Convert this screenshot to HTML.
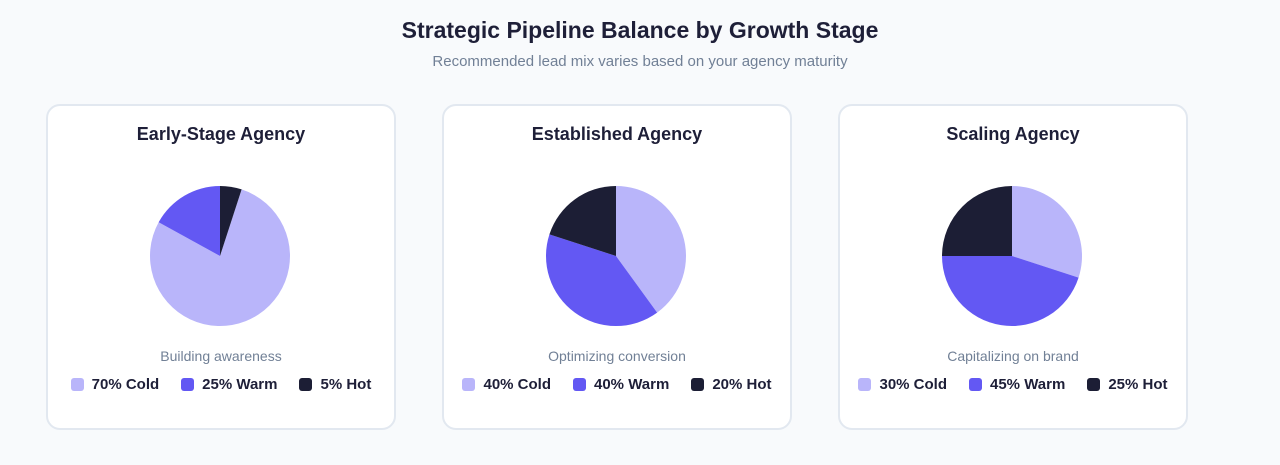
<!DOCTYPE html>
<html><head><meta charset="utf-8"><style>
body{margin:0;width:1280px;height:465px;background:#f8fafc;font-family:"Liberation Sans",sans-serif;position:relative;overflow:hidden}
.t{position:absolute;left:0;width:1280px;text-align:center}
.card{position:absolute;top:104px;width:346px;height:322px;background:#fff;border:2px solid #e2e8f0;border-radius:14px}
.ct{position:absolute;top:18px;width:100%;text-align:center;font-size:18px;font-weight:bold;color:#1e1f38}
.cap{position:absolute;top:242px;width:100%;text-align:center;font-size:14px;color:#718096}
.leg{position:absolute;top:270px;width:100%;display:flex;justify-content:center;gap:22px;font-size:15px;font-weight:bold;color:#1e1f38}
.leg span{display:flex;align-items:center}
.sw{width:13px;height:13px;border-radius:3px;margin-right:8px;display:inline-block}
svg{position:absolute;left:100px;top:78px}
</style></head><body>
<div class="t" style="top:17px;font-size:23px;font-weight:bold;color:#1e1f38">Strategic Pipeline Balance by Growth Stage</div>
<div class="t" style="top:53px;font-size:15px;color:#718096">Recommended lead mix varies based on your agency maturity</div>
<div id="root"></div>
<script>
const titles=["Early-Stage Agency","Established Agency","Scaling Agency"];
const captions=["Building awareness","Optimizing conversion","Capitalizing on brand"];
const coldVals=[78,40,30];
const warmVals=[17,40,45];
const hotVals=[5,20,25];
const labelCold=["70%","40%","30%"];
const labelWarm=["25%","40%","45%"];
const labelHot=["5%","20%","25%"];
const startPct=[5,0,0];
const colors=["#b9b5fa","#6358f3","#1c1e35"];
const names=["Cold","Warm","Hot"];
const lefts=[46,442,838];
const root=document.getElementById('root');
const R=70,C=72;
function pt(p){const a=p/100*2*Math.PI;return [C+R*Math.sin(a),C-R*Math.cos(a)];}
titles.forEach((t,i)=>{
  const card=document.createElement('div');card.className='card';card.style.left=lefts[i]+'px';
  
  
  let svg='<svg width="144" height="144">';
  const vals=[coldVals[i],warmVals[i],hotVals[i]];
  let acc=startPct[i];
  vals.forEach((v,k)=>{
    const [x1,y1]=pt(acc),[x2,y2]=pt(acc+v);
    svg+=`<path fill="${colors[k]}" d="M${C},${C}L${x1},${y1}A${R},${R} 0 ${v>50?1:0} 1 ${x2},${y2}Z"/>`;
    acc+=v;
  });
  svg+='</svg>';
  const labs=[labelCold[i],labelWarm[i],labelHot[i]];
  let leg='<div class="leg">';
  labs.forEach((l,k)=>{leg+=`<span><i class="sw" style="background:${colors[k]}"></i>${l} ${names[k]}</span>`;});
  leg+='</div>';
  card.innerHTML=`<div class="ct">${t}</div>${svg}<div class="cap">${captions[i]}</div>${leg}`;
  root.appendChild(card);
});
</script>
</body></html>
